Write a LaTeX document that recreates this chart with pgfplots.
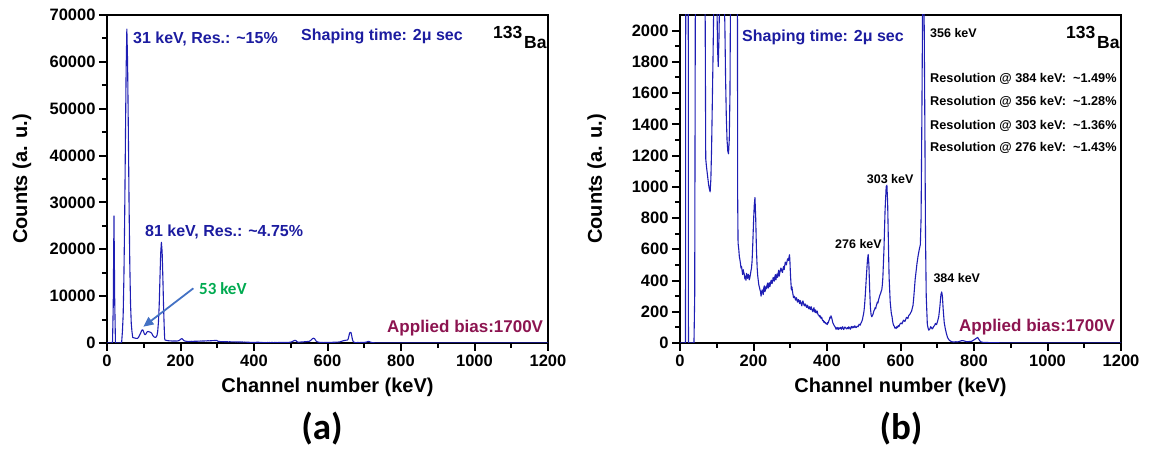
\documentclass[border=0pt]{standalone}
\usepackage{fontspec}
\setmainfont{Liberation Sans}
\newfontfamily\calfont{Carlito}
\usepackage{pgfplots}
\usepackage{pgfplotstable}
\pgfplotsset{compat=1.18}
\usetikzlibrary{arrows.meta}

\definecolor{specblue}{RGB}{30,30,180}
\definecolor{txtblue}{RGB}{28,28,160}
\definecolor{biasred}{RGB}{140,20,80}
\definecolor{kevgreen}{RGB}{0,170,80}
\definecolor{arrowblue}{RGB}{68,114,196}

% Ba-133 spectrum, channel vs counts
\pgfplotstableread[row sep=\\]{
x y\\
0 0\\ 10 0\\ 15 0\\ 17 8000\\ 19 27100\\ 21 9000\\ 23 0\\ 38 0\\ 40 300\\ 42 2500\\
44 6000\\ 46 14000\\ 48 26000\\ 50 42000\\ 52 58000\\ 54 67000\\ 56 60000\\ 58 46000\\
60 30000\\ 62 17000\\ 64 8500\\ 66 4200\\ 68 2400\\ 70 1180\\ 72 1130\\ 74 1090\\
76 1050\\ 78 1010\\ 80 985\\ 82 968\\ 84 1050\\ 86 1250\\ 88 1550\\ 90 1850\\ 92 2200\\
94 2600\\ 96 2800\\ 98 2750\\ 100 2300\\ 102 1900\\ 104 1770\\ 106 1950\\ 108 2250\\
110 2400\\ 112 2450\\ 114 2400\\ 116 2350\\ 118 2300\\ 120 2200\\ 122 2050\\ 124 1700\\
126 1450\\ 128 1300\\ 130 1230\\ 132 1211\\ 134 1300\\ 136 1600\\ 138 2500\\ 140 4500\\
142 8000\\ 144 13500\\ 146 19000\\ 148 21500\\ 150 19500\\ 152 14000\\ 154 7500\\
156 2600\\ 157 900\\ 158 640\\ 160 598\\ 161.5 552\\ 163 534\\ 164.5 510\\ 166 480\\
167.5 490\\ 169 462\\ 170.5 438\\ 172 469\\ 173.5 452\\ 175 440\\ 176.5 410\\ 178 428\\
179.5 402\\ 181 446\\ 182.5 420\\ 184 414\\ 185.5 440\\ 187 432\\ 188.5 405\\ 190 418\\
191.5 438\\ 193 460\\ 194.5 480\\ 196 520\\ 197.5 600\\ 199 700\\ 200.5 800\\
202 880\\ 204 931\\ 206 800\\ 208 600\\ 210 480\\ 211.5 430\\ 213 400\\ 214.5 372\\
216 358\\ 217.5 342\\ 219 330\\ 220.5 300\\ 222 318\\ 223.5 340\\ 225 336\\ 226.5 310\\
228 352\\ 229.5 366\\ 231 328\\ 232.5 340\\ 234 362\\ 235.5 348\\ 237 372\\ 238.5 384\\
240 352\\ 241.5 370\\ 243 386\\ 244.5 360\\ 246 378\\ 247.5 398\\ 249 402\\ 250.5 380\\
252 394\\ 253.5 420\\ 255 412\\ 256.5 396\\ 258 424\\ 259.5 438\\ 261 404\\ 262.5 426\\
264 442\\ 265.5 420\\ 267 446\\ 268.5 466\\ 270 428\\ 271.5 450\\ 273 462\\ 274.5 480\\
276 472\\ 277.5 456\\ 279 452\\ 280.5 478\\ 282 490\\ 283.5 470\\ 285 496\\ 286.5 518\\
288 512\\ 289.5 500\\ 291 520\\ 292.5 536\\ 294 540\\ 295.5 528\\ 297 556\\ 298 565\\
299 530\\ 300 470\\ 301 420\\ 302 380\\ 303 340\\ 304.5 360\\ 306 332\\ 307.5 310\\
309 290\\ 310.5 300\\ 312 296\\ 313.5 282\\ 315 274\\ 316.5 290\\ 318 282\\ 319.5 262\\
321 268\\ 322.5 278\\ 324 264\\ 325.5 252\\ 327 272\\ 328.5 260\\ 330 248\\ 331.5 238\\
333 262\\ 334.5 270\\ 336 254\\ 337.5 242\\ 339 238\\ 340.5 250\\ 342 246\\ 343.5 232\\
345 228\\ 346.5 242\\ 348 236\\ 349.5 222\\ 351 218\\ 352.5 232\\ 354 226\\ 355.5 214\\
357 232\\ 358.5 220\\ 360 208\\ 361.5 200\\ 363 216\\ 364.5 226\\ 366 204\\ 367.5 196\\
369 212\\ 370.5 192\\ 372 198\\ 373.5 204\\ 375 186\\ 376.5 178\\ 378 178\\ 379.5 168\\
381 176\\ 382.5 162\\ 384 158\\ 385.5 166\\ 387 150\\ 388.5 142\\ 390 144\\ 391.5 132\\
393 138\\ 394.5 128\\ 396 130\\ 397.5 122\\ 399 126\\ 400.5 118\\ 402 132\\ 403.5 128\\
405 142\\ 406.5 150\\ 408 166\\ 409.5 160\\ 411 174\\ 412.5 162\\ 414 150\\ 415.5 132\\
417 124\\ 418.5 116\\ 420 110\\ 421.5 104\\ 423 100\\ 424.5 88\\ 426 94\\ 427.5 100\\
429 92\\ 430.5 86\\ 432 98\\ 433.5 94\\ 435 90\\ 436.5 100\\ 438 96\\ 439.5 88\\
441 100\\ 442.5 104\\ 444 92\\ 445.5 86\\ 447 96\\ 448.5 102\\ 450 100\\ 451.5 94\\
453 90\\ 454.5 96\\ 456 98\\ 457.5 90\\ 459 104\\ 460.5 100\\ 462 94\\ 463.5 88\\
465 100\\ 466.5 106\\ 468 96\\ 469.5 100\\ 471 106\\ 472.5 98\\ 474 100\\ 475.5 110\\
477 104\\ 478.5 98\\ 480 100\\ 481.5 106\\ 483 108\\ 484.5 104\\ 486 112\\ 487.5 120\\
489 118\\ 490.5 114\\ 492 126\\ 493.5 132\\ 495 140\\ 496.5 150\\ 498 170\\ 499.5 186\\
501 211\\ 502.5 250\\ 504 300\\ 507 420\\ 510 530\\ 512 567\\ 514 500\\
516 350\\ 518 230\\ 520 180\\ 522 168\\ 523.5 176\\ 525 182\\ 526.5 196\\ 528 208\\
529.5 214\\ 531 226\\ 532.5 220\\ 534 238\\ 535.5 248\\ 537 262\\ 538.5 256\\
540 274\\ 541.5 286\\ 543 300\\ 544.5 310\\ 546 318\\ 547.5 332\\ 549 340\\ 550.5 370\\
552 420\\ 555 600\\ 558 850\\ 561 1000\\ 563 1010\\
565 900\\ 567 650\\ 569 420\\ 572 262\\ 575 190\\ 577 168\\ 578.5 140\\ 580 122\\
581.5 112\\ 583 108\\ 584.5 96\\ 586 100\\ 588 92\\ 590 104\\ 592 98\\ 594 112\\
596 106\\ 598 118\\ 600 126\\ 602 128\\ 604 122\\ 606 134\\ 608 146\\ 610 142\\
612 138\\ 614 150\\ 616 164\\ 618 162\\ 620 156\\ 622 174\\ 624 180\\ 626 186\\
628 196\\ 630 202\\ 632 222\\ 634 240\\ 636 290\\ 638 350\\ 640 410\\ 642 450\\
645 512\\ 648 560\\ 651 598\\ 654 630\\
656 800\\ 658 1400\\ 660 2100\\ 662 2300\\ 664 2200\\ 666 1500\\ 668 700\\ 670 300\\
673 120\\ 675 96\\ 677 82\\ 680 90\\ 682 104\\ 684 100\\ 686 90\\ 688 94\\ 690 106\\
692 110\\ 694 118\\ 695 125\\ 698 118\\ 701 140\\
704 168\\ 707 230\\ 710 310\\ 712 327\\ 714 300\\ 716 220\\ 719 130\\ 722 90\\ 725 60\\
728 35\\ 732 20\\ 736 12\\ 740 8\\ 745 6\\ 750 8\\ 755 7\\ 760 10\\ 765 14\\ 770 15\\
775 12\\ 780 8\\ 785 9\\ 790 10\\ 795 12\\ 800 20\\ 805 28\\ 810 36\\ 814 20\\ 818 8\\
825 4\\ 850 2\\ 900 0\\ 1200 0\\
}\spectrum

\pgfplotsset{
  specaxis/.style={
    scale only axis, width=441pt, height=328pt,
    xmin=0, xmax=1200, ymin=0,
    axis line style={line width=2.4pt},
    tick style={black, line width=2pt},
    major tick length=8pt, minor tick length=5pt,
    tick align=outside, xtick pos=bottom, ytick pos=left,
    xtick={0,200,...,1200}, minor x tick num=1, minor y tick num=1,
    scaled ticks=false,
    tick label style={font=\fontsize{16.5}{18}\selectfont\bfseries},
    /pgf/number format/assume math mode=true,
    /pgf/number format/1000 sep={},
    label style={font=\fontsize{20}{22}\selectfont\bfseries},
    xlabel={Channel number (keV)},
    ylabel={Counts (a. u.)},
    xlabel style={at={(axis description cs:0.5,-0.134)}, anchor=center},
    clip mode=individual,
  },
}
\tikzset{txt/.style={anchor=west, inner sep=0pt, font=\fontsize{#1}{#1}\selectfont\bfseries}}

\begin{document}
\begin{tikzpicture}
\useasboundingbox (0,0) rectangle (1157pt,449pt);

% (a) full range
\begin{axis}[specaxis, at={(107pt,106pt)}, anchor=south west,
  ymax=70000, ytick={0,10000,...,70000},
  ylabel style={at={(axis description cs:-0.193,0.5)}, anchor=center}]
\addplot[specblue, line width=1.1pt, line join=round] table {\spectrum};
\draw[-{Triangle[length=10pt,width=9pt]}, arrowblue, line width=1.8pt]
  (axis cs:235,11670) -- (axis cs:99,3480);
\end{axis}

% (b) zoomed
\begin{axis}[specaxis, at={(680pt,106pt)}, anchor=south west,
  ymax=2100, ytick={0,200,...,2000},
  ylabel style={at={(axis description cs:-0.189,0.5)}, anchor=center}]
\addplot[specblue, line width=1.1pt, line join=round] table {\spectrum};
\end{axis}

% annotations, panel (a)
\node[txt=16, text=txtblue] at (133pt,410pt) {31 keV, Res.: \textasciitilde15\%};
\node[txt=16, text=txtblue] at (301pt,413pt) {Shaping time: 2μ sec};
\node[txt=17.5] at (493pt,417pt) {133};
\node[txt=17.5] at (524pt,406.5pt) {Ba};
\node[txt=16, text=txtblue] at (145pt,217pt) {81 keV, Res.: \textasciitilde4.75\%};
\node[anchor=west, inner sep=0pt, text=kevgreen, font=\calfont\fontsize{17}{17}\selectfont\bfseries] at (199pt,160.5pt) {53 keV};
\node[txt=17, text=biasred] at (387pt,121pt) {Applied bias:1700V};
\node[font=\calfont\fontsize{37}{37}\selectfont\bfseries] at (322pt,20pt) {(a)};

% annotations, panel (b)
\node[txt=16, text=txtblue] at (742pt,412pt) {Shaping time: 2μ sec};
\node[txt=12.5] at (930pt,416pt) {356 keV};
\node[txt=17.5] at (1066pt,417pt) {133};
\node[txt=17.5] at (1097pt,406.5pt) {Ba};
\node[txt=12.7] at (930pt,369.7pt) {Resolution @ 384 keV:\ \ \textasciitilde1.49\%};
\node[txt=12.7] at (930pt,347.3pt) {Resolution @ 356 keV:\ \ \textasciitilde1.28\%};
\node[txt=12.7] at (930pt,323.3pt) {Resolution @ 303 keV:\ \ \textasciitilde1.36\%};
\node[txt=12.7] at (930pt,300.7pt) {Resolution @ 276 keV:\ \ \textasciitilde1.43\%};
\node[txt=12.5] at (866.7pt,270pt) {303 keV};
\node[txt=12.5] at (835pt,205pt) {276 keV};
\node[txt=12.5] at (933.3pt,170.5pt) {384 keV};
\node[txt=17, text=biasred] at (959pt,121.7pt) {Applied bias:1700V};
\node[font=\calfont\fontsize{37}{37}\selectfont\bfseries] at (901pt,20pt) {(b)};
\end{tikzpicture}
\end{document}
